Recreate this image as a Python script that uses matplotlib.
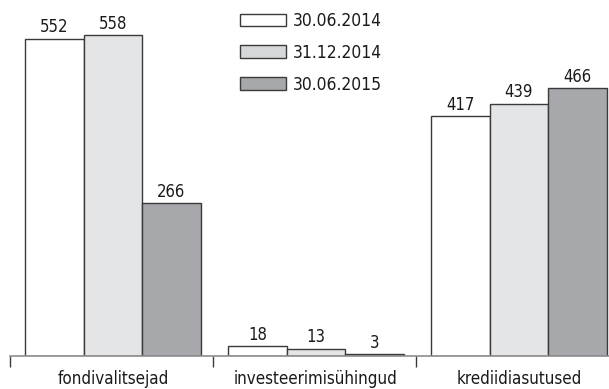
import matplotlib
matplotlib.use('Agg')
import matplotlib.pyplot as plt
import numpy as np

plt.rcParams['font.family'] = ['DejaVu Sans']
plt.rcParams['font.stretch'] = 'condensed'

kategooriad = ['fondivalitsejad', 'investeerimisühingud', 'krediidiasutused']
kuupaevad = ['30.06.2014', '31.12.2014', '30.06.2015']
v_2014_06 = [552, 18, 417]
v_2014_12 = [558, 13, 439]
v_2015_06 = [266, 3, 466]
seeriad = [v_2014_06, v_2014_12, v_2015_06]
varvid = ['#ffffff', '#e4e5e7', '#a7a8ab']

fig = plt.figure(figsize=(6.09, 3.89), dpi=100)
ax = fig.add_axes([10/609, 33/389, 599/609, 356/389])

x = np.arange(len(kategooriad)) + 0.007
w = 0.288
for i, (vals, c, lab) in enumerate(zip(seeriad, varvid, kuupaevad)):
    bars = ax.bar(x + (i - 1) * w, vals, w, color=c, edgecolor='#3a3a3a',
                  linewidth=1.0, label=lab)
    for b, v in zip(bars, vals):
        ax.annotate(str(v), (b.get_x() + b.get_width() / 2, v),
                    xytext=(0, 1.5), textcoords='offset points',
                    ha='center', va='bottom', fontsize=12, color='#1a1a1a')

for s in ['top', 'right', 'left']:
    ax.spines[s].set_visible(False)
ax.spines['bottom'].set_color('#8c8c8c')
ax.spines['bottom'].set_linewidth(1.2)
ax.set_yticks([])

# labels under groups, separator ticks between groups
ax.set_xticks(x)
ax.set_xticklabels(kategooriad, fontsize=12.2, color='#1a1a1a')
ax.tick_params(axis='x', which='major', length=0, pad=10)
ax.set_xticks([-0.5, 0.5, 1.5], minor=True)
ax.tick_params(axis='x', which='minor', length=8, width=1.0, color='#3a3a3a')

ax.set_xlim(-0.5, -0.5 + 599/203)
ax.set_ylim(0, 619)

leg = ax.legend(loc='upper left', bbox_to_anchor=(240/609, 1 - 12/389),
                bbox_transform=fig.transFigure, frameon=False, fontsize=12.5,
                handlelength=2.65, handleheight=0.75, handletextpad=0.4,
                labelspacing=0.8, borderpad=0, borderaxespad=0)
for t in leg.get_texts():
    t.set_color('#1a1a1a')
leg.legend_handles[1].set_facecolor('#d6d7d9')

fig.savefig('out.png', dpi=100)
